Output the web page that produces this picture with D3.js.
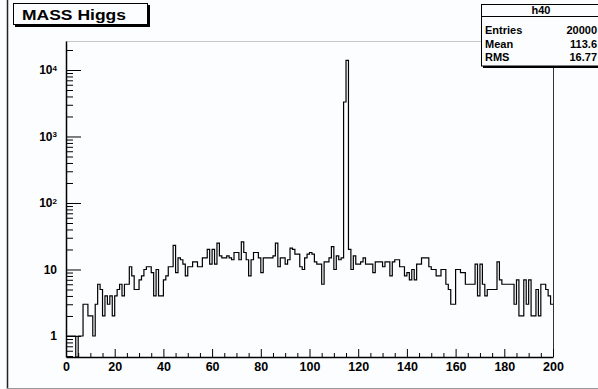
<!DOCTYPE html>
<html>
<head>
<meta charset="utf-8">
<script src="https://cdn.jsdelivr.net/npm/d3@7"></script>
<style>
  body { margin: 0; background: #fcfdfe; }
  svg { display: block; font-family: "Liberation Sans", Arial, Helvetica, sans-serif; }
</style>
</head>
<body>
<svg id="chart" width="598" height="389"></svg>
<script>
// histogram h40 : 200 bins from 0 to 200
var binLow = 0, binHigh = 200;
var counts = [
  1, 1, 1, 1, 0, 1, 1, 3, 3, 2,
  2, 1, 3, 6, 5, 2, 4, 3, 4, 2,
  4, 5, 6, 4, 6, 6, 11, 8, 5, 5,
  7, 8, 10, 11, 11, 9, 4, 10, 4, 4,
  7, 8, 11, 11, 23, 9, 15, 14, 12, 8,
  11, 11, 13, 13, 11, 11, 15, 15, 20, 12,
  20, 12, 25, 16, 15, 15, 16, 15, 14, 18,
  18, 14, 26, 18, 14, 8, 14, 18, 18, 15,
  9, 15, 15, 15, 15, 16, 25, 11, 15, 15,
  12, 14, 21, 20, 17, 17, 11, 10, 15, 17,
  18, 17, 13, 12, 12, 6, 13, 13, 15, 22,
  10, 16, 14, 15, 3300, 14000, 20, 10, 16, 12,
  12, 13, 15, 12, 12, 12, 9, 13, 13, 13,
  11, 13, 13, 8, 13, 14, 14, 11, 11, 8,
  9, 7, 10, 7, 12, 12, 15, 15, 15, 11,
  10, 10, 8, 8, 10, 10, 6, 5, 3, 3,
  10, 10, 9, 9, 6, 6, 6, 6, 12, 4,
  12, 6, 4, 5, 5, 5, 5, 13, 7, 6,
  6, 6, 6, 6, 3, 7, 2, 2, 7, 3,
  7, 2, 2, 5, 2, 6, 6, 5, 4, 3
];
var xTicks = [0, 20, 40, 60, 80, 100, 120, 140, 160, 180, 200];
var yDecades = [1, 10, 100, 1000, 10000];
var yExponents = ["", "", "2", "3", "4"];
var yRange = [0.483, 27300];
var title = "MASS Higgs";
var statTitle = "h40";
var statNames = ["Entries", "Mean", "RMS"];
var statValues = ["20000", "113.6", "16.77"];

var svg = d3.select("#chart");
// frame edges (note: "top" is taken by window.top)
var frameL = 66, frameR = 553, frameT = 41, frameB = 357;

var x = d3.scaleLinear().domain([binLow, binHigh]).range([frameL, frameR]);
var y = d3.scaleLog().domain(yRange).range([frameB, frameT]);

// canvas edges
svg.append("line").attr("x1", 7.5).attr("x2", 7.5).attr("y1", 0).attr("y2", 389)
  .attr("stroke", "#222").attr("stroke-width", 1.5);
svg.append("line").attr("x1", 7).attr("x2", 598).attr("y1", 388.5).attr("y2", 388.5)
  .attr("stroke", "#999");

// frame
svg.append("line").attr("x1", frameL).attr("x2", frameR).attr("y1", frameT + 0.5).attr("y2", frameT + 0.5)
  .attr("stroke", "#c4c6c8");
svg.append("line").attr("x1", frameR + 0.5).attr("x2", frameR + 0.5).attr("y1", frameT).attr("y2", frameB)
  .attr("stroke", "#333");

// minor ticks
var yMinor = [];
[0.1, 1, 10, 100, 1000, 10000].forEach(function(d) {
  for (var k = 2; k <= 9; k++) {
    var v = d * k;
    if (v >= yRange[0] && v <= yRange[1]) yMinor.push(v);
  }
});
svg.append("g").attr("transform", "translate(" + frameL + ",0)")
  .call(d3.axisLeft(y).tickValues(yMinor).tickSize(-7).tickSizeOuter(0).tickFormat(""))
  .call(function(g) { g.select(".domain").remove(); });

var xMinor = d3.range(0, 201, 5).filter(function(d) { return d % 20 !== 0; });
svg.append("g").attr("transform", "translate(0," + frameB + ")")
  .call(d3.axisBottom(x).tickValues(xMinor).tickSize(-4).tickSizeOuter(0).tickFormat(""))
  .call(function(g) { g.select(".domain").remove(); });

// major axes
var yAxis = svg.append("g").attr("transform", "translate(" + frameL + ",0)")
  .call(d3.axisLeft(y).tickValues(yDecades).tickSize(-15).tickSizeOuter(0).tickPadding(9)
    .tickFormat(function(d, i) { return i < 2 ? String(d) : "10"; }));
yAxis.selectAll("text").each(function(d, i) {
  if (yExponents[i]) {
    d3.select(this).append("tspan").attr("dy", "-0.45em").attr("font-size", 8).text(yExponents[i]);
  }
});
yAxis.selectAll("text").attr("font-size", 12).attr("font-weight", "bold").attr("fill", "#000");
yAxis.select(".domain").attr("stroke-width", 1.5);

var xAxis = svg.append("g").attr("transform", "translate(0," + frameB + ")")
  .call(d3.axisBottom(x).tickValues(xTicks).tickSize(-8).tickSizeOuter(0).tickPadding(5));
xAxis.selectAll("text").attr("font-size", 12.5).attr("font-weight", "bold").attr("fill", "#000");
xAxis.select(".domain").attr("stroke-width", 1.5);

// histogram outline
var path = d3.path();
counts.forEach(function(c, i) {
  var yy = c > 0 ? y(c) : frameB;
  if (i === 0) path.moveTo(x(i), yy); else path.lineTo(x(i), yy);
  path.lineTo(x(i + 1), yy);
});
svg.append("path").attr("d", path.toString())
  .attr("fill", "none").attr("stroke", "#000").attr("stroke-width", 1.2);

// title box
svg.append("rect").attr("x", 15).attr("y", 5).attr("width", 135).attr("height", 22).attr("fill", "#000");
svg.append("rect").attr("x", 13.5).attr("y", 3.5).attr("width", 134).attr("height", 21)
  .attr("fill", "#fcfdfe").attr("stroke", "#000");
svg.append("text").attr("x", 22).attr("y", 19.5).attr("font-size", 15).attr("font-weight", "bold")
  .attr("textLength", 104).attr("lengthAdjust", "spacingAndGlyphs").text(title);

// stats box
svg.append("rect").attr("x", 483).attr("y", 6).attr("width", 120).attr("height", 62).attr("fill", "#000");
svg.append("rect").attr("x", 481.5).attr("y", 4.5).attr("width", 120).attr("height", 61.5)
  .attr("fill", "#fcfdfe").attr("stroke", "#000");
svg.append("line").attr("x1", 481.5).attr("x2", 598).attr("y1", 16.5).attr("y2", 16.5).attr("stroke", "#000");
svg.append("text").attr("x", 541).attr("y", 14).attr("text-anchor", "middle")
  .attr("font-size", 11).attr("font-weight", "bold").text(statTitle);
var statRows = d3.range(statNames.length);
svg.selectAll("text.sname").data(statRows).enter().append("text").attr("class", "sname")
  .attr("x", 485).attr("y", function(i) { return 34 + i * 13.5; })
  .attr("font-size", 11).attr("font-weight", "bold").text(function(i) { return statNames[i]; });
svg.selectAll("text.sval").data(statRows).enter().append("text").attr("class", "sval")
  .attr("x", 597).attr("y", function(i) { return 34 + i * 13.5; }).attr("text-anchor", "end")
  .attr("font-size", 11).attr("font-weight", "bold").text(function(i) { return statValues[i]; });
</script>
</body>
</html>
